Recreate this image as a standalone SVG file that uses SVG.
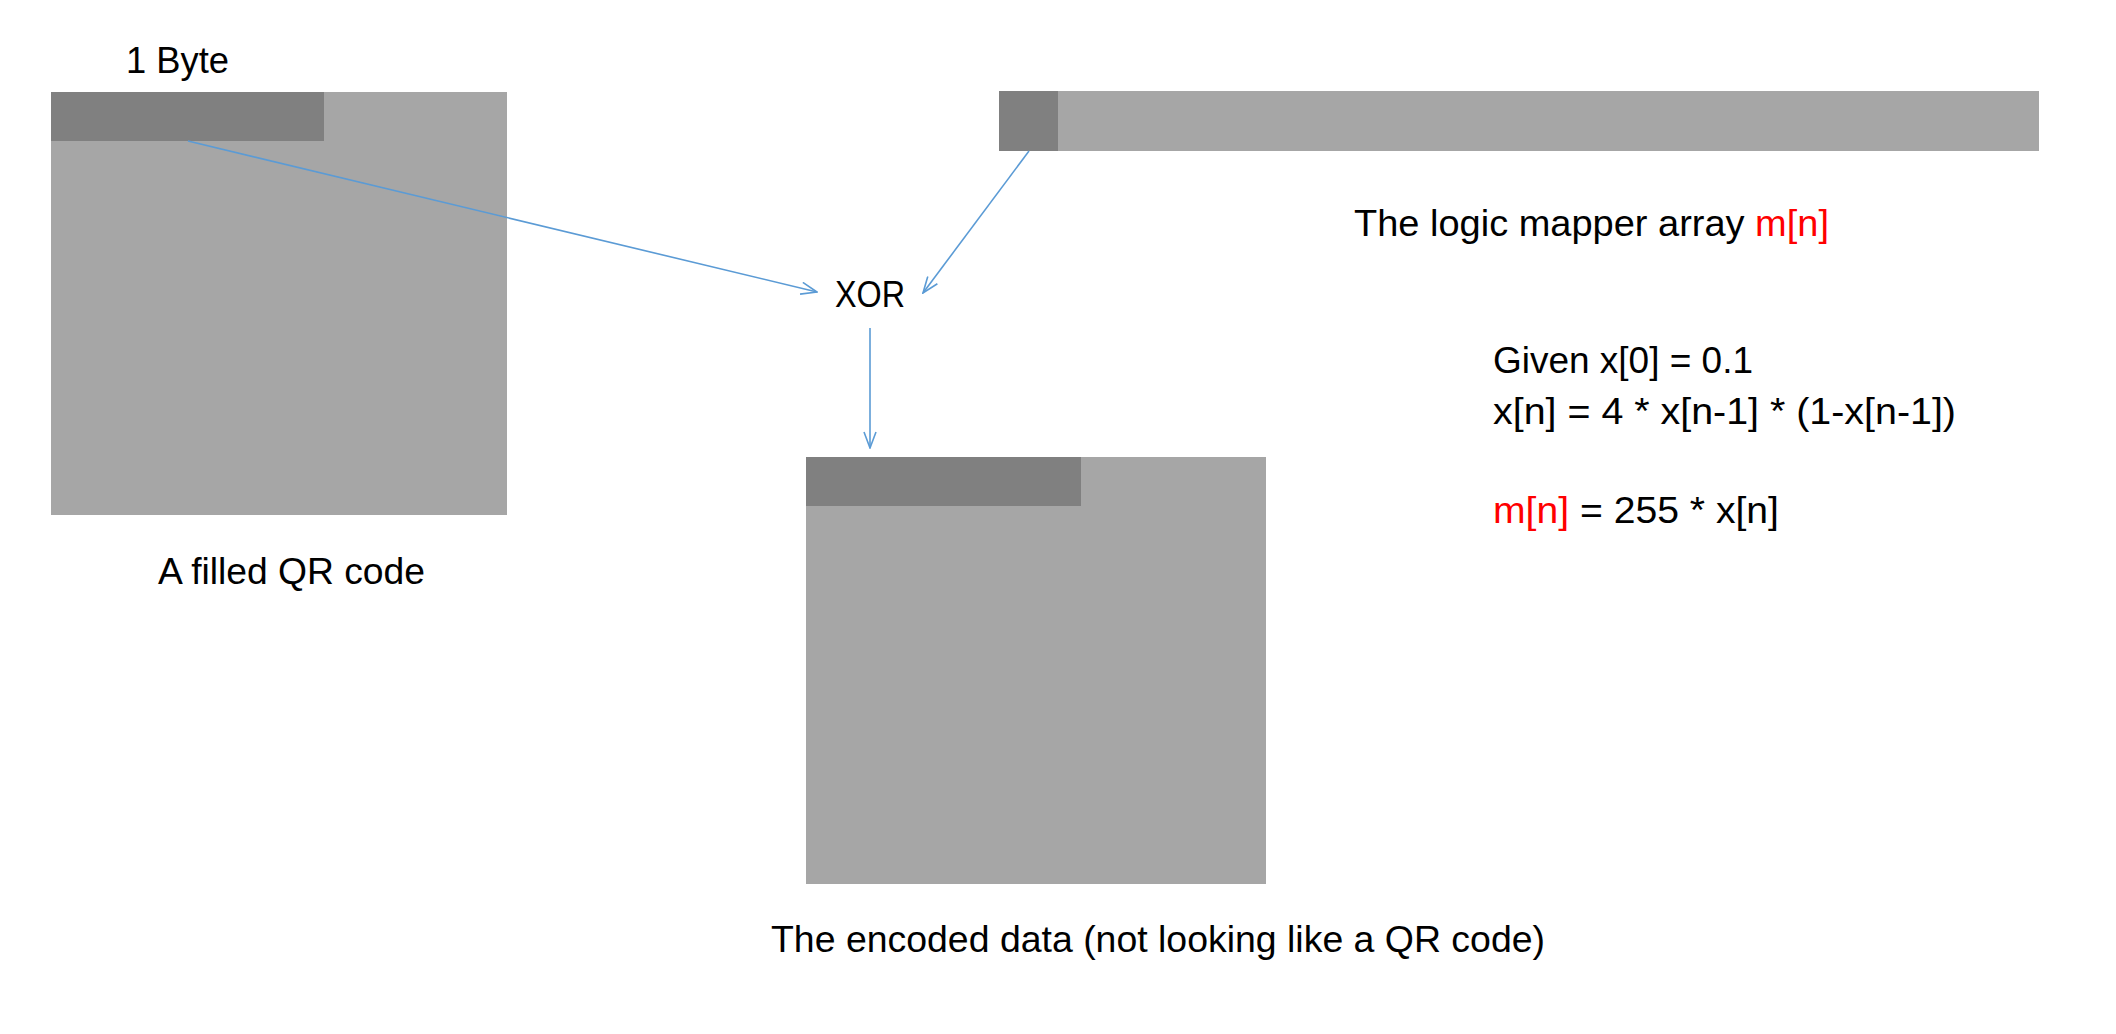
<svg xmlns="http://www.w3.org/2000/svg" width="2116" height="1034" viewBox="0 0 2116 1034">
<style>
.lt{fill:#A6A6A6}
.dk{fill:#808080}
.t{font-family:"Liberation Sans",Arial,sans-serif;font-size:37px;fill:#000}
.r{fill:#FF0000}
.c{stroke:#5B9BD5;stroke-width:1.6;fill:none}
</style>
<defs>
<marker id="ah" markerUnits="userSpaceOnUse" markerWidth="18" markerHeight="14" viewBox="0 0 18 14" refX="17" refY="7" orient="auto">
<path d="M1,1 L17,7 L1,13" fill="none" stroke="#5B9BD5" stroke-width="1.6"/>
</marker>
</defs>
<rect width="2116" height="1034" fill="#fff"/>
<g id="qr">
<rect class="lt" x="51" y="92" width="456" height="423"/>
<rect class="dk" x="51" y="92" width="273" height="49"/>
</g>
<g id="byte-label"><text class="t" x="126" y="73" textLength="103" lengthAdjust="spacingAndGlyphs">1 Byte</text></g>
<g id="qr-label"><text class="t" x="158" y="584" textLength="267" lengthAdjust="spacingAndGlyphs">A filled QR code</text></g>
<g id="mapper">
<rect class="lt" x="999" y="91" width="1040" height="60"/>
<rect class="dk" x="999" y="91" width="59" height="60"/>
</g>
<g id="mapper-label"><text class="t" x="1354" y="236" textLength="475" lengthAdjust="spacingAndGlyphs">The logic mapper array <tspan class="r">m[n]</tspan></text></g>
<g id="xor"><text class="t" x="835" y="307" textLength="70" lengthAdjust="spacingAndGlyphs">XOR</text></g>
<g id="encoded">
<rect class="lt" x="806" y="457" width="460" height="427"/>
<rect class="dk" x="806" y="457" width="275" height="49"/>
</g>
<g id="encoded-label"><text class="t" x="771" y="952" textLength="774" lengthAdjust="spacingAndGlyphs">The encoded data (not looking like a QR code)</text></g>
<g id="formulas">
<text class="t" x="1493" y="373" textLength="260" lengthAdjust="spacingAndGlyphs">Given x[0] = 0.1</text>
<text class="t" x="1493" y="424" textLength="463" lengthAdjust="spacingAndGlyphs">x[n] = 4 * x[n-1] * (1-x[n-1])</text>
<text class="t" x="1493" y="523" textLength="286" lengthAdjust="spacingAndGlyphs"><tspan class="r">m[n]</tspan> = 255 * x[n]</text>
</g>
<g id="connectors">
<line class="c" x1="188" y1="141" x2="817" y2="292" marker-end="url(#ah)"/>
<line class="c" x1="1029" y1="151" x2="923" y2="293" marker-end="url(#ah)"/>
<line class="c" x1="870" y1="328" x2="870" y2="448" marker-end="url(#ah)"/>
</g>
</svg>
